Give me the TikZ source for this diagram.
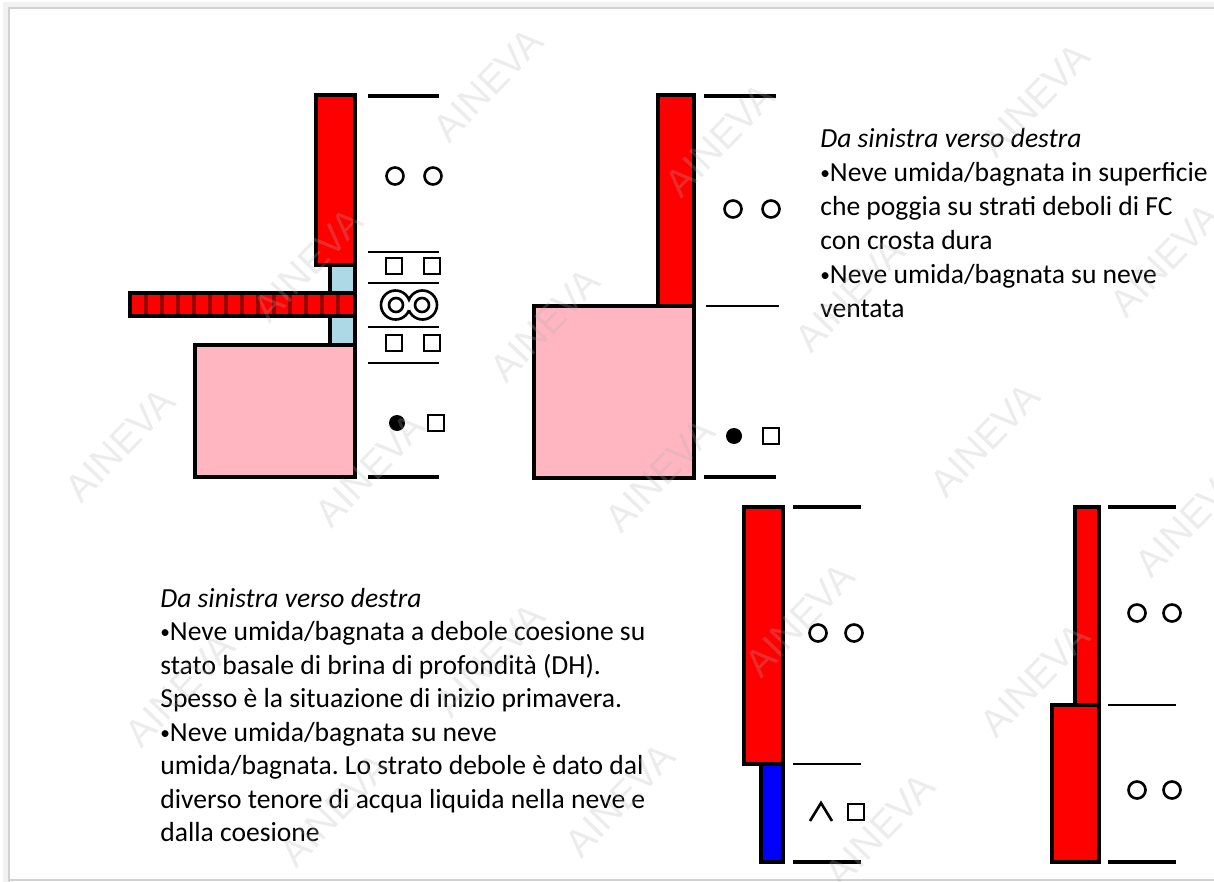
\documentclass[tikz,border=0pt]{standalone}
\usepackage{fontspec}
\setmainfont{Carlito}
\newfontfamily\wmfont{Liberation Sans}
\usepackage{tikz}
\frenchspacing
\newcommand\smallbullet{\raisebox{.15ex}{\fontsize{11}{11}\selectfont •}}

\definecolor{snowpink}{RGB}{255,182,193}
\definecolor{snowblue}{RGB}{173,216,230}
\definecolor{stripered}{RGB}{150,0,0}

\begin{document}
\begin{tikzpicture}[x=0.02cm, y=-0.02cm,
  layerbox/.style={draw=black, line width=1.9pt},
  levelline/.style={line width=1.9pt},
  levelthin/.style={line width=1.3pt},
  grainsym/.style={line width=1.5pt},
  bodytext/.style={anchor=base west, inner sep=0pt, font=\fontsize{15.7}{18}\selectfont},
  watermark/.style={text=gray!60, opacity=0.25, rotate=46, inner sep=0pt, font=\wmfont\fontsize{22}{22}\selectfont}]
\useasboundingbox (0,0) rectangle (1214,882);
% frame of the slide
\draw[gray!10, line width=3pt] (6,882) -- (6,5) -- (1214,5);
\draw[gray!35, line width=0.8pt] (9,882) -- (9,8) -- (1214,8);
\draw[gray!35, line width=0.8pt] (9,880) -- (1214,880);

% first profile (top left)
\draw[layerbox, fill=red] (316,95) rectangle (355,265);
\draw[layerbox, fill=snowblue] (330,265) rectangle (355,345);
\draw[layerbox, fill=snowpink] (195,345) rectangle (355,477);
\draw[layerbox, fill=red] (130,293) rectangle (355,316);
\foreach \x in {146,162,...,340}
  \draw[stripered, line width=1.8pt] (\x,295) -- (\x,314);
\foreach \y in {96,477} \draw[levelline] (368,\y) -- (439,\y);
\foreach \y in {252,283,327,363} \draw[levelthin] (368,\y) -- (439,\y);
\foreach \x in {395,433} \draw[grainsym] (\x,176) circle (8.5);
\foreach \x in {394,432} {
  \draw[grainsym] (\x-8,258) rectangle (\x+8,274);
  \draw[grainsym] (\x-8,335) rectangle (\x+8,351);
}
\draw[grainsym] (409,310.3) arc[start angle=21.4, end angle=338.6, radius=14.5]
  arc[start angle=201.4, end angle=518.6, radius=14.5];
\draw[grainsym] (396,305) circle (7) (422,305) circle (7);
\fill (397,423) circle (8);
\draw[grainsym] (428,415) rectangle (444,431);

% second profile (top right)
\draw[layerbox, fill=red] (658,95) rectangle (694,306);
\draw[layerbox, fill=snowpink] (534,306) rectangle (694,478);
\foreach \y in {96,477} \draw[levelline] (704,\y) -- (776,\y);
\draw[levelthin] (706,306) -- (779,306);
\foreach \x in {733,771} \draw[grainsym] (\x,209) circle (8.5);
\fill (734,436) circle (8);
\draw[grainsym] (763,428) rectangle (779,444);

% third profile (bottom middle)
\draw[layerbox, fill=red] (744,507) rectangle (783,764);
\draw[layerbox, fill=blue] (761,764) rectangle (783,862);
\foreach \y in {507,862} \draw[levelline] (793,\y) -- (861,\y);
\draw[levelthin] (793,764) -- (861,764);
\foreach \x in {818,854} \draw[grainsym] (\x,633) circle (8.5);
\draw[grainsym] (810,821) -- (821,803) -- (832,821);
\draw[grainsym] (848,804) rectangle (864,820);

% fourth profile (bottom right)
\draw[layerbox, fill=red] (1075,507) rectangle (1099,705);
\draw[layerbox, fill=red] (1052,705) rectangle (1099,862);
\foreach \y in {507,862} \draw[levelline] (1108,\y) -- (1176,\y);
\draw[levelthin] (1108,705) -- (1176,705);
\foreach \x in {1137,1172} {
  \draw[grainsym] (\x,613) circle (8.5);
  \draw[grainsym] (\x,790) circle (8.5);
}

% texts
\foreach \t [count=\i] in {
  {\textit{Da sinistra verso destra}},
  {\smallbullet Neve umida/bagnata in superficie},
  {che poggia su strati deboli di FC},
  {con crosta dura},
  {\smallbullet Neve umida/bagnata su neve},
  {ventata}}
  \node[bodytext] (right\i) at (820,148+33.8*\i-33.8) {\t};
\foreach \t [count=\i] in {
  {\textit{Da sinistra verso destra}},
  {\smallbullet Neve umida/bagnata a debole coesione su},
  {stato basale di brina di profondità (DH).},
  {Spesso è la situazione di inizio primavera.},
  {\smallbullet Neve umida/bagnata su neve},
  {umida/bagnata. Lo strato debole è dato dal},
  {diverso tenore di acqua liquida nella neve e},
  {dalla coesione}}
  \node[bodytext] (left\i) at (160,607+33.5*\i-33.5) {\t};

% watermark
\foreach \p [count=\i] in {(488,85),(1035,100),(720,140),(308,265),(545,325),
    (850,295),(1165,260),(120,445),(370,470),(660,475),(985,440),(180,690),
    (490,660),(800,620),(1035,680),(1190,520),(335,810),(620,800),(880,830)}
  \node[watermark] (wm\i) at \p {AINEVA};
\end{tikzpicture}
\end{document}
